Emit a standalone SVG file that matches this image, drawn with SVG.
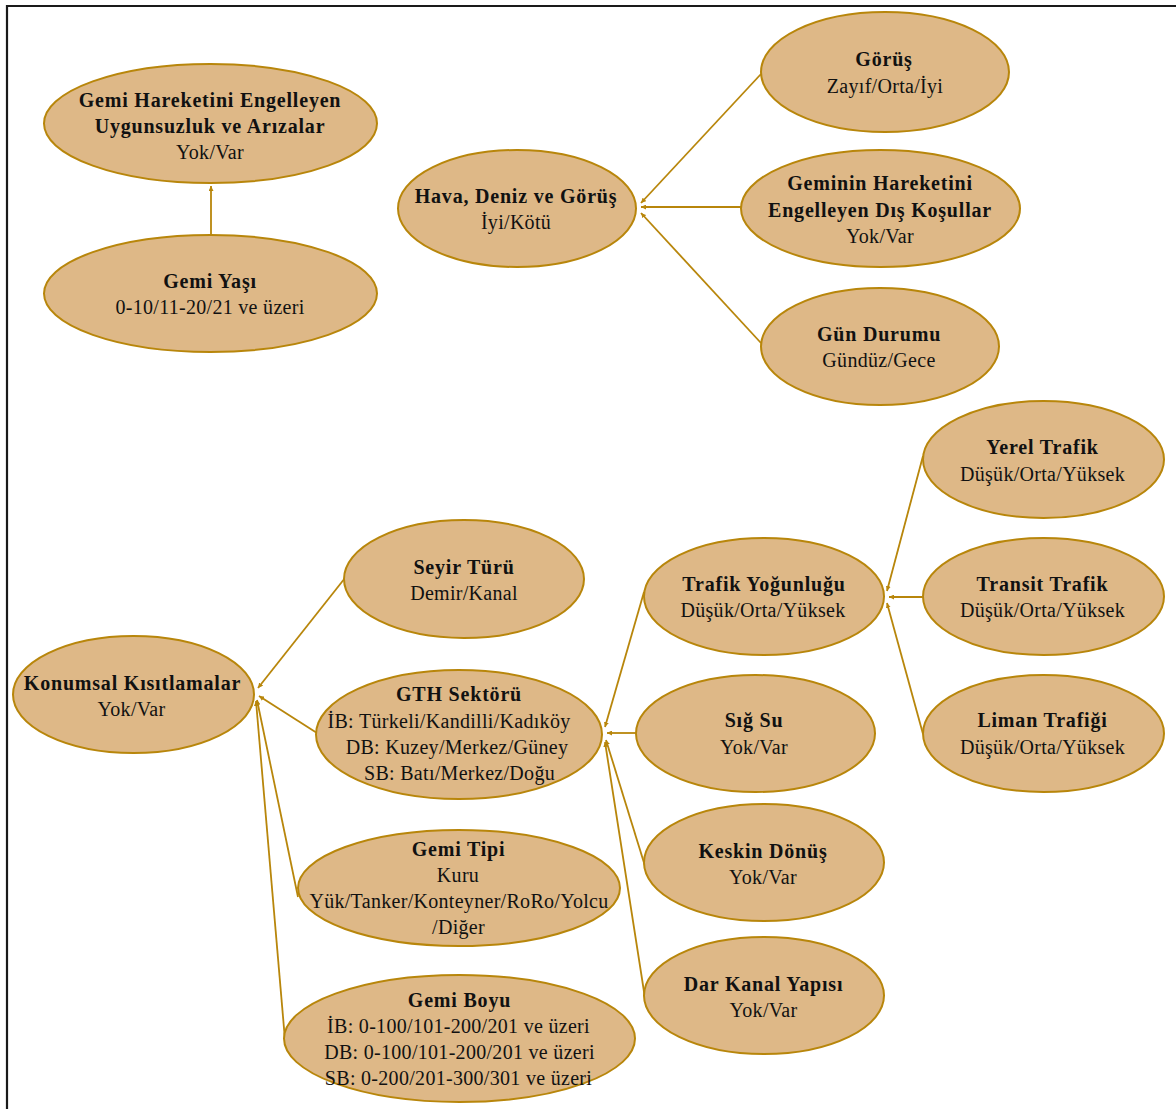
<svg xmlns="http://www.w3.org/2000/svg" width="1176" height="1109" viewBox="0 0 1176 1109">
  <style>
    .node ellipse { fill: #DEB887; stroke: #B8860B; stroke-width: 2; }
    .node text { font-family: "Liberation Serif", "Times New Roman", serif; fill: #111; text-anchor: middle; font-size: 20px; }
    .node .t { font-weight: bold; letter-spacing: 0.8px; }
    .node .s { letter-spacing: 0.3px; }
    #connectors line { stroke: #B8860B; stroke-width: 1.8; fill: none; marker-end: url(#tip); }
  </style>
  <defs>
    <marker id="tip" markerUnits="userSpaceOnUse" markerWidth="5" markerHeight="5" viewBox="0 0 5 5" refX="5" refY="2.5" orient="auto">
      <path d="M0,0 L5,2.5 L0,5 Z" fill="#B8860B"/>
    </marker>
  </defs>

  <rect x="0" y="0" width="1176" height="1109" fill="#fff"/>
  <!-- frame -->
  <path d="M7,1109 V6 H1176" fill="none" stroke="#1a1a1a" stroke-width="2.2"/>

  <g id="connectors">
    <line x1="211" y1="235" x2="211" y2="186"/>
    <line x1="761" y1="74" x2="641" y2="203"/>
    <line x1="741" y1="207" x2="641" y2="207"/>
    <line x1="761" y1="343" x2="641" y2="213"/>
    <line x1="923" y1="456" x2="887" y2="591"/>
    <line x1="923" y1="597" x2="889" y2="597"/>
    <line x1="923" y1="734" x2="887" y2="603"/>
    <line x1="644" y1="592" x2="605" y2="727"/>
    <line x1="636" y1="733" x2="607" y2="733"/>
    <line x1="645" y1="866" x2="606" y2="740"/>
    <line x1="645" y1="998" x2="605" y2="742"/>
    <line x1="345" y1="578" x2="258" y2="688"/>
    <line x1="317" y1="733" x2="259" y2="696"/>
    <line x1="298" y1="897" x2="257" y2="700"/>
    <line x1="285" y1="1040" x2="256" y2="701"/>
  </g>

  <g id="gemi-hareketini" class="node">
    <ellipse cx="210.5" cy="123.5" rx="166.5" ry="59.5"/>
    <text class="t" x="210" y="107">Gemi Hareketini Engelleyen</text>
    <text class="t" x="210" y="133">Uygunsuzluk ve Arızalar</text>
    <text class="s" x="210" y="159">Yok/Var</text>
  </g>

  <g id="gemi-yasi" class="node">
    <ellipse cx="210.5" cy="293.5" rx="166.5" ry="58.5"/>
    <text class="t" x="210" y="288">Gemi Yaşı</text>
    <text class="s" x="210" y="314">0-10/11-20/21 ve üzeri</text>
  </g>

  <g id="hava-deniz" class="node">
    <ellipse cx="517" cy="208.5" rx="119" ry="58.5"/>
    <text class="t" x="516" y="203">Hava, Deniz ve Görüş</text>
    <text class="s" x="516" y="229">İyi/Kötü</text>
  </g>

  <g id="gorus" class="node">
    <ellipse cx="885" cy="72" rx="124" ry="60"/>
    <text class="t" x="884" y="66">Görüş</text>
    <text class="s" x="885" y="93">Zayıf/Orta/İyi</text>
  </g>

  <g id="dis-kosullar" class="node">
    <ellipse cx="880.5" cy="208.5" rx="139.5" ry="58.5"/>
    <text class="t" x="880" y="190">Geminin Hareketini</text>
    <text class="t" x="880" y="217">Engelleyen Dış Koşullar</text>
    <text class="s" x="880" y="243">Yok/Var</text>
  </g>

  <g id="gun-durumu" class="node">
    <ellipse cx="880" cy="346.5" rx="119" ry="58.5"/>
    <text class="t" x="879" y="341">Gün Durumu</text>
    <text class="s" x="879" y="367">Gündüz/Gece</text>
  </g>

  <g id="yerel-trafik" class="node">
    <ellipse cx="1043.5" cy="459.5" rx="120.5" ry="58.5"/>
    <text class="t" x="1042.5" y="454">Yerel Trafik</text>
    <text class="s" x="1042.5" y="481">Düşük/Orta/Yüksek</text>
  </g>

  <g id="transit-trafik" class="node">
    <ellipse cx="1043.5" cy="596.5" rx="120.5" ry="58.5"/>
    <text class="t" x="1042.5" y="591">Transit Trafik</text>
    <text class="s" x="1042.5" y="617">Düşük/Orta/Yüksek</text>
  </g>

  <g id="liman-trafigi" class="node">
    <ellipse cx="1043.5" cy="733.5" rx="120.5" ry="58.5"/>
    <text class="t" x="1042.5" y="727">Liman Trafiği</text>
    <text class="s" x="1042.5" y="754">Düşük/Orta/Yüksek</text>
  </g>

  <g id="trafik-yogunlugu" class="node">
    <ellipse cx="764" cy="596.5" rx="120" ry="58.5"/>
    <text class="t" x="764" y="591">Trafik Yoğunluğu</text>
    <text class="s" x="763" y="617">Düşük/Orta/Yüksek</text>
  </g>

  <g id="sig-su" class="node">
    <ellipse cx="755.5" cy="733.5" rx="119.5" ry="58.5"/>
    <text class="t" x="754" y="727">Sığ Su</text>
    <text class="s" x="754" y="754">Yok/Var</text>
  </g>

  <g id="keskin-donus" class="node">
    <ellipse cx="764" cy="862.5" rx="120" ry="58.5"/>
    <text class="t" x="763" y="858">Keskin Dönüş</text>
    <text class="s" x="763" y="884">Yok/Var</text>
  </g>

  <g id="dar-kanal" class="node">
    <ellipse cx="764" cy="995.5" rx="120" ry="58.5"/>
    <text class="t" x="763.5" y="991">Dar Kanal Yapısı</text>
    <text class="s" x="763.5" y="1017">Yok/Var</text>
  </g>

  <g id="seyir-turu" class="node">
    <ellipse cx="464" cy="579" rx="120" ry="59"/>
    <text class="t" x="464" y="574">Seyir Türü</text>
    <text class="s" x="464" y="600">Demir/Kanal</text>
  </g>

  <g id="gth-sektoru" class="node">
    <ellipse cx="459" cy="734.5" rx="143" ry="64.5"/>
    <text class="t" x="459" y="701">GTH Sektörü</text>
    <text class="s" x="449" y="728">İB: Türkeli/Kandilli/Kadıköy</text>
    <text class="s" x="457" y="754">DB: Kuzey/Merkez/Güney</text>
    <text class="s" x="459.5" y="780">SB: Batı/Merkez/Doğu</text>
  </g>

  <g id="konumsal" class="node">
    <ellipse cx="133.5" cy="694.5" rx="120.5" ry="58.5"/>
    <text class="t" x="132.5" y="690">Konumsal Kısıtlamalar</text>
    <text class="s" x="131.5" y="716">Yok/Var</text>
  </g>

  <g id="gemi-tipi" class="node">
    <ellipse cx="459" cy="888" rx="161" ry="58"/>
    <text class="t" x="458.5" y="856">Gemi Tipi</text>
    <text class="s" x="458" y="882">Kuru</text>
    <text class="s" x="459" y="908">Yük/Tanker/Konteyner/RoRo/Yolcu</text>
    <text class="s" x="458.5" y="934">/Diğer</text>
  </g>

  <g id="gemi-boyu" class="node">
    <ellipse cx="459.5" cy="1038.5" rx="175.5" ry="63.5"/>
    <text class="t" x="459.5" y="1007">Gemi Boyu</text>
    <text class="s" x="458.5" y="1033">İB: 0-100/101-200/201 ve üzeri</text>
    <text class="s" x="459.5" y="1059">DB: 0-100/101-200/201 ve üzeri</text>
    <text class="s" x="458.5" y="1085">SB: 0-200/201-300/301 ve üzeri</text>
  </g>
</svg>
